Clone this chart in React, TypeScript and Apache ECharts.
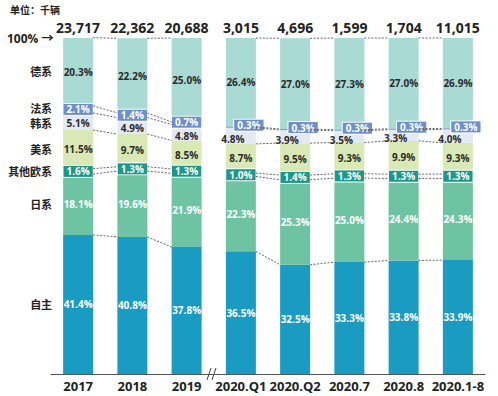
import React, { useEffect, useRef } from "react";
import * as echarts from "echarts";

const categories = ["2017", "2018", "2019", "2020.Q1", "2020.Q2", "2020.7", "2020.8", "2020.1-8"];
const totals = [23717, 22362, 20688, 3015, 4696, 1599, 1704, 11015];
const seriesNames = ["自主", "日系", "其他欧系", "美系", "韩系", "法系", "德系"];
const ziZhu = [41.4, 40.8, 37.8, 36.5, 32.5, 33.3, 33.8, 33.9];
const riXi = [18.1, 19.6, 21.9, 22.3, 25.3, 25.0, 24.4, 24.3];
const qiTaOuXi = [1.6, 1.3, 1.3, 1.0, 1.4, 1.3, 1.3, 1.3];
const meiXi = [11.5, 9.7, 8.5, 8.7, 9.5, 9.3, 9.9, 9.3];
const hanXi = [5.1, 4.9, 4.8, 4.8, 3.9, 3.5, 3.3, 4.0];
const faXi = [2.1, 1.4, 0.7, 0.3, 0.3, 0.3, 0.3, 0.3];
const deXi = [20.3, 22.2, 25.0, 26.4, 27.0, 27.3, 27.0, 26.9];
const connectorPairs = [0, 1, 3, 4, 5, 6];

const values = [ziZhu, riXi, qiTaOuXi, meiXi, hanXi, faXi, deXi];
const colors = ["#1a9bc2", "#6ec3a3", "#1c9a8c", "#d8e9b5", "#e4e8f3", "#7592c8", "#a9dad4"];
const labelColors = ["#ffffff", "#ffffff", "#ffffff", "#2a2a2a", "#2a2a2a", "#ffffff", "#2a2a2a"];
const nameShift = [0, 0, 0, 0, 2, -1, 0];
const FONT = "'Open Sans', 'Noto Sans CJK SC', sans-serif";
const HALF = 15;

export default function App() {
  const ref = useRef<HTMLDivElement>(null);
  useEffect(() => {
    if (!ref.current) return;
    const chart = echarts.init(ref.current, null, { renderer: "svg" });

    const cumulative: number[][] = [];
    let run = categories.map(() => 0);
    values.forEach((arr) => {
      run = run.map((v, i) => +(v + arr[i]).toFixed(2));
      cumulative.push(run.slice());
    });

    const barSeries = values.map((arr, k) => {
      const boxed = k === 2 || k === 5;
      return {
        name: seriesNames[k],
        type: "bar",
        stack: "total",
        barWidth: 30,
        itemStyle: { color: colors[k] },
        data: arr.map((v, i) => {
          const item: any = { value: v };
          if (k === 5 && i >= 3) item.label = { offset: [8, -2] };
          if (k === 5 && i === 2) item.label = { offset: [0, -1] };
          if (k === 4 && i >= 3) item.label = { offset: [-8, 3] };
          if (k === 4 && i === 2) item.label = { offset: [0, 4] };
          if (k === 4 && i < 2) item.label = { offset: [0, 2] };
          return item;
        }),
        label: {
          show: true,
          position: "inside",
          formatter: (p: any) => `${Number(p.value).toFixed(1)}%`,
          color: labelColors[k],
          fontSize: 10,
          fontWeight: "bold",
          fontFamily: FONT,
          ...(boxed
            ? {
                backgroundColor: k === 5 ? "#6d8fca" : "#1a988a",
                borderColor: "#ffffff",
                borderWidth: 1,
                padding: [1, 3, 0, 3],
              }
            : {}),
        },
        z: boxed ? 3 : 2,
      };
    });

    const connectors = {
      type: "custom",
      xAxisIndex: 0,
      yAxisIndex: 0,
      z: 5,
      silent: true,
      data: connectorPairs.map((i) => [i, 0]),
      encode: { x: 0, y: 1 },
      renderItem: (params: any, api: any) => {
        const i = api.value(0);
        const children = cumulative.map((lvl) => {
          const p1 = api.coord([i, lvl[i]]);
          const p2 = api.coord([i + 1, lvl[i + 1]]);
          return {
            type: "line",
            shape: { x1: p1[0] + HALF, y1: p1[1], x2: p2[0] - HALF, y2: p2[1] },
            style: { stroke: "#555", lineWidth: 0.9, lineDash: [2, 1.5] },
          };
        });
        return { type: "group", children };
      },
    };

    const names = {
      type: "custom",
      xAxisIndex: 0,
      yAxisIndex: 0,
      z: 5,
      silent: true,
      data: seriesNames.map((_, k) => [0, cumulative[k][0] - values[k][0] / 2, k]),
      encode: { x: 0, y: 1 },
      renderItem: (params: any, api: any) => {
        const k = api.value(2);
        const p = api.coord([api.value(0), api.value(1)]);
        return {
          type: "text",
          x: p[0] - HALF - 11,
          y: p[1] + nameShift[k],
          style: {
            text: seriesNames[k],
            align: "right",
            verticalAlign: "middle",
            fill: "#222",
            fontSize: 11,
            fontWeight: "bold",
            fontFamily: FONT,
          },
        };
      },
    };

    chart.setOption({
      animation: false,
      grid: { left: 51, right: 13, top: 38, bottom: 22, containLabel: false },
      xAxis: [
        {
          type: "category",
          data: categories,
          axisLine: { lineStyle: { color: "#555", width: 1.2 } },
          axisTick: { show: false },
          axisLabel: { interval: 0, color: "#222", fontSize: 13, fontWeight: "bold", fontFamily: FONT, margin: 5 },
        },
        {
          type: "category",
          position: "top",
          data: totals.map((t) => t.toLocaleString("en-US")),
          axisLine: { show: false },
          axisTick: { show: false },
          axisLabel: { interval: 0, color: "#222", fontSize: 14, fontWeight: "bold", fontFamily: FONT, margin: 4 },
        },
      ],
      yAxis: { type: "value", min: 0, max: 100, show: false },
      series: [...barSeries, connectors, names],
      graphic: [
        {
          type: "text",
          x: 10,
          y: 10,
          style: {
            text: "单位：千辆",
            fill: "#222",
            fontSize: 10,
            fontWeight: "bold",
            fontFamily: FONT,
            verticalAlign: "middle",
          },
        },
        {
          type: "text",
          x: 7,
          y: 38,
          style: {
            text: "100% →",
            fill: "#222",
            fontSize: 12,
            fontWeight: "bold",
            fontFamily: FONT,
            verticalAlign: "middle",
          },
        },
        {
          type: "line",
          shape: { x1: 207, y1: 380, x2: 211, y2: 368 },
          style: { stroke: "#444", lineWidth: 1 },
        },
        {
          type: "line",
          shape: { x1: 212, y1: 380, x2: 216, y2: 368 },
          style: { stroke: "#444", lineWidth: 1 },
        },
      ],
    });
    return () => chart.dispose();
  }, []);
  return <div ref={ref} style={{ position: "absolute", left: 0, top: 0, width: 498, height: 396 }} />;
}
